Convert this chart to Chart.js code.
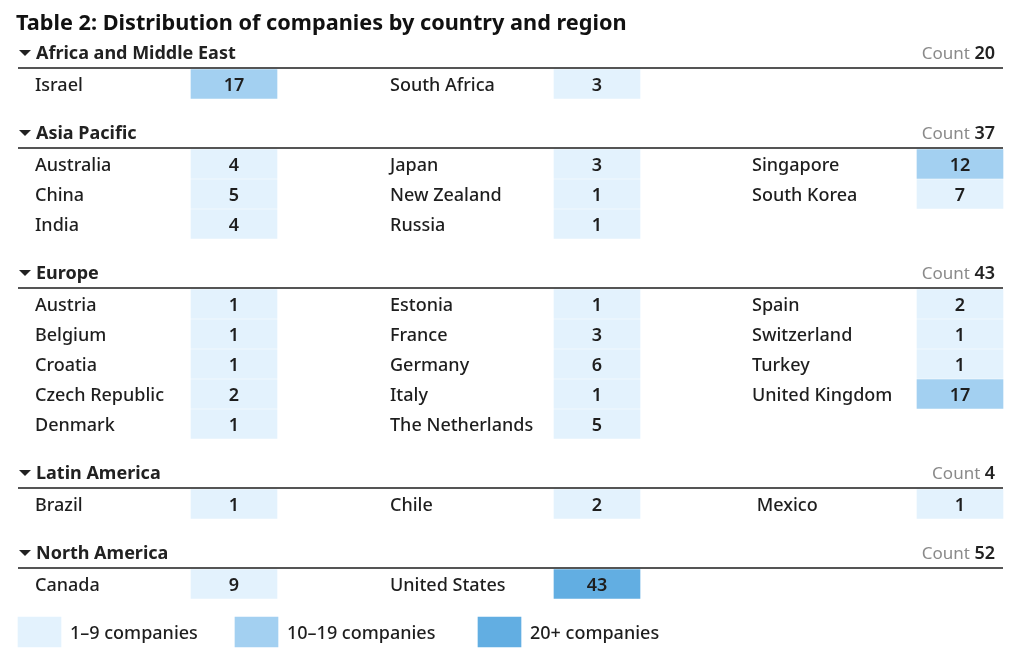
<!DOCTYPE html>
<html>
<head>
<meta charset="utf-8">
<script src="https://cdn.jsdelivr.net/npm/chart.js@4.4.1/dist/chart.umd.min.js"></script>
<style>
  html, body { margin: 0; padding: 0; background: #fff; }
  #wrap { width: 1024px; height: 668px; }
</style>
</head>
<body>
<div id="wrap"><canvas id="tabela" width="1024" height="668"></canvas></div>
<script>
const titleText = "Table 2: Distribution of companies by country and region";
const regions = ["Africa and Middle East", "Asia Pacific", "Europe", "Latin America", "North America"];
const regionCounts = [20, 37, 43, 4, 52];
const rowsPerColumn = [1, 3, 5, 1, 1];
const countries = [
  ["Israel", "South Africa"],
  ["Australia", "China", "India", "Japan", "New Zealand", "Russia", "Singapore", "South Korea"],
  ["Austria", "Belgium", "Croatia", "Czech Republic", "Denmark",
   "Estonia", "France", "Germany", "Italy", "The Netherlands",
   "Spain", "Switzerland", "Turkey", "United Kingdom"],
  ["Brazil", "Chile", " Mexico"],
  ["Canada", "United States"]
];
const companies = [
  [17, 3],
  [4, 5, 4, 3, 1, 1, 12, 7],
  [1, 1, 1, 2, 1, 1, 3, 6, 1, 5, 2, 1, 1, 17],
  [1, 2, 1],
  [9, 43]
];
const legendLabels = ["1\u20139 companies", "10\u201319 companies", "20+ companies"];
const bandMin = [1, 10, 20];

// estilos / layout
const bandColors = ["#e3f2fd", "#a3d0f1", "#62aee2"];
const FONT = "'Noto Sans', sans-serif";
const TITLE_Y = 22;
const FIRST_HEADER_Y = 52;
const ROW_H = 30;
const HEADER_TO_ROW = 32;
const ROW_TO_HEADER = 48;
const TEXT_DY = 2;
const NAME_X = [35, 390, 752];
const CELL_X = [191, 554, 917];
const CELL_W = 86;
const LINE_X0 = 18;
const LINE_X1 = 1003;
const LEGEND_SWATCH_X = [18, 235, 478];
const LEGEND_SWATCH_W = 43;

function bandIndex(v) {
  let idx = 0;
  for (let i = 0; i < bandMin.length; i += 1) {
    if (v >= bandMin[i]) idx = i;
  }
  return idx;
}

// monta as posicoes das linhas a partir dos indices
const headers = [];
const cells = [];
let cursorY = FIRST_HEADER_Y;
regions.forEach((region, i) => {
  const rows = rowsPerColumn[i];
  headers.push({ label: region, count: regionCounts[i], y: cursorY });
  countries[i].forEach((name, j) => {
    const col = Math.floor(j / rows);
    const row = j % rows;
    cells.push({
      x: [CELL_X[col], CELL_X[col] + CELL_W],
      y: cursorY + HEADER_TO_ROW + row * ROW_H,
      name,
      col,
      v: companies[i][j]
    });
  });
  cursorY += HEADER_TO_ROW + (rows - 1) * ROW_H + ROW_TO_HEADER;
});
const legendY = cursorY;
const legendCells = legendLabels.map((label, i) => ({
  x: [LEGEND_SWATCH_X[i], LEGEND_SWATCH_X[i] + LEGEND_SWATCH_W],
  y: legendY,
  label,
  band: i
}));

const tableText = {
  id: "tableText",
  afterDatasetsDraw(chart) {
    const { ctx } = chart;
    const xs = chart.scales.x;
    const ys = chart.scales.y;
    const px = (v) => xs.getPixelForValue(v);
    const py = (v) => ys.getPixelForValue(v);
    const ty = (v) => ys.getPixelForValue(v + TEXT_DY);

    ctx.save();
    ctx.textBaseline = "middle";

    // titulo
    ctx.fillStyle = "#111";
    ctx.textAlign = "left";
    ctx.font = `bold 21.7px ${FONT}`;
    ctx.fillText(titleText, px(16), ty(TITLE_Y));

    headers.forEach((h) => {
      // triangulo
      ctx.fillStyle = "#222";
      ctx.beginPath();
      ctx.moveTo(px(19), py(h.y - 2));
      ctx.lineTo(px(31), py(h.y - 2));
      ctx.lineTo(px(25), py(h.y + 4));
      ctx.closePath();
      ctx.fill();

      ctx.textAlign = "left";
      ctx.font = `bold 18px ${FONT}`;
      ctx.fillText(h.label, px(36), ty(h.y));

      // count
      ctx.textAlign = "right";
      ctx.font = `600 18px ${FONT}`;
      const num = String(h.count);
      const numW = ctx.measureText(num).width;
      ctx.fillStyle = "#222";
      ctx.fillText(num, px(995), ty(h.y));
      ctx.font = `17px ${FONT}`;
      ctx.fillStyle = "#8a8a8a";
      ctx.fillText("Count ", px(995) - numW, ty(h.y));

      // linha
      ctx.strokeStyle = "#555";
      ctx.lineWidth = 2;
      ctx.beginPath();
      ctx.moveTo(px(LINE_X0), py(h.y + 16));
      ctx.lineTo(px(LINE_X1), py(h.y + 16));
      ctx.stroke();
    });

    cells.forEach((c) => {
      ctx.fillStyle = "#1e1e1e";
      ctx.textAlign = "left";
      ctx.font = `500 18px ${FONT}`;
      ctx.fillText(c.name, px(NAME_X[c.col]), ty(c.y));
      ctx.textAlign = "center";
      ctx.font = `600 18px ${FONT}`;
      ctx.fillText(String(c.v), px((c.x[0] + c.x[1]) / 2), ty(c.y));
    });

    legendCells.forEach((l) => {
      ctx.fillStyle = "#1e1e1e";
      ctx.textAlign = "left";
      ctx.font = `500 18px ${FONT}`;
      ctx.fillText(l.label, px(l.x[1] + 9), ty(l.y));
    });

    ctx.restore();
  }
};

new Chart(document.getElementById("tabela"), {
  type: "bar",
  data: {
    datasets: [
      {
        label: "cells",
        data: cells,
        backgroundColor: (c) => (c.raw ? bandColors[bandIndex(c.raw.v)] : bandColors[0]),
        barThickness: 29,
        grouped: false,
        borderWidth: 0
      },
      {
        label: "legend",
        data: legendCells,
        backgroundColor: (c) => (c.raw ? bandColors[c.raw.band] : bandColors[0]),
        barThickness: 30,
        grouped: false,
        borderWidth: 0
      }
    ]
  },
  options: {
    indexAxis: "y",
    responsive: false,
    animation: false,
    events: [],
    layout: { padding: 0 },
    plugins: {
      legend: { display: false },
      tooltip: { enabled: false }
    },
    scales: {
      x: { type: "linear", min: 0, max: 1024, display: false },
      y: { type: "linear", min: 0, max: 668, reverse: true, offset: false, display: false }
    }
  },
  plugins: [tableText]
});
</script>
</body>
</html>
